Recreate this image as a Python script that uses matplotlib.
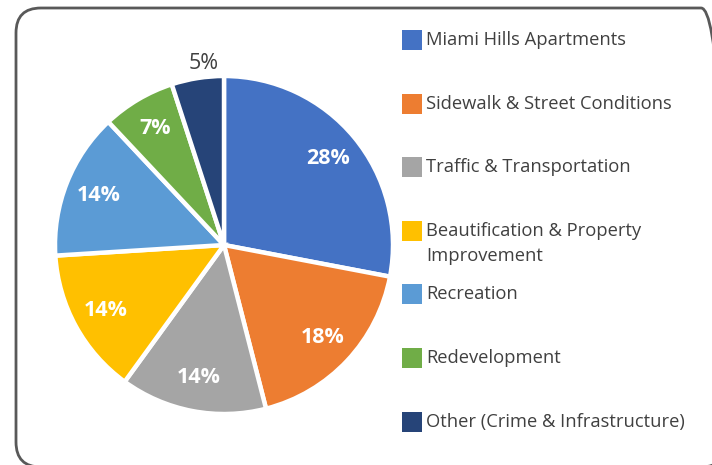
import numpy as np
import matplotlib
matplotlib.use("Agg")
import matplotlib.pyplot as plt
from matplotlib.patches import FancyBboxPatch, Rectangle

# ============================================================
# Data
# ============================================================

categories = [
    "Miami Hills Apartments",
    "Sidewalk & Street Conditions",
    "Traffic & Transportation",
    "Beautification & Property\nImprovement",
    "Recreation",
    "Redevelopment",
    "Other (Crime & Infrastructure)",
]
shares = [28, 18, 14, 14, 14, 7, 5]
colors = ["#4472C4", "#ED7D31", "#A5A5A5", "#FFC000", "#5B9BD5", "#70AD47", "#264478"]

plt.rcParams["font.family"] = ["Open Sans", "DejaVu Sans"]

W, H = 712, 465
fig = plt.figure(figsize=(W / 100, H / 100), dpi=100)
fig.patch.set_facecolor("white")


def fx(px):
    return px / W


def fy(py):
    return 1 - py / H


# rounded border (runs off the right / bottom edge like the original)
border = FancyBboxPatch((fx(16), fy(467)), fx(726) - fx(16), fy(8) - fy(467),
                        boxstyle="round,pad=0,rounding_size=0.035",
                        transform=fig.transFigure, facecolor="none",
                        edgecolor="#595959", linewidth=2.0,
                        mutation_aspect=W / H, clip_on=False)
fig.patches.append(border)

# ============================================================
# Pie
# ============================================================

cx, cy, r = 224, 245, 169
ax = fig.add_axes([fx(cx - r), fy(cy + r), 2 * r / W, 2 * r / H])

wedges, texts, autotexts = ax.pie(
    shares, colors=colors, startangle=90, counterclock=False,
    autopct="%.0f%%", pctdistance=0.8,
    wedgeprops=dict(edgecolor="white", linewidth=3.2),
    textprops=dict(color="white", fontsize=15.5, fontweight="bold"),
)
ax.set_xlim(-1, 1)
ax.set_ylim(-1, 1)
ax.set_aspect("equal")

# smallest slice label sits outside
w = wedges[-1]
mid = np.deg2rad((w.theta1 + w.theta2) / 2)
autotexts[-1].set_position((1.09 * np.cos(mid) + 0.05, 1.09 * np.sin(mid)))
autotexts[-1].set_color("#404040")
autotexts[-1].set_fontweight("normal")

# ============================================================
# Legend (manual, to keep Excel spacing)
# ============================================================

y0, step = 40, 63.6
for i, (lab, col) in enumerate(zip(categories, colors)):
    y = y0 + i * step
    fig.patches.append(Rectangle((fx(402), fy(y + 10)), fx(20), 20 / H,
                                 transform=fig.transFigure, facecolor=col,
                                 edgecolor="none"))
    if "\n" in lab:
        fig.text(fx(426), fy(y - 9), lab, ha="left", va="top",
                 fontsize=13.2, color="#404040", linespacing=1.5)
    else:
        fig.text(fx(426), fy(y), lab, ha="left", va="center",
                 fontsize=13.2, color="#404040")

plt.savefig("out.png", dpi=100)
